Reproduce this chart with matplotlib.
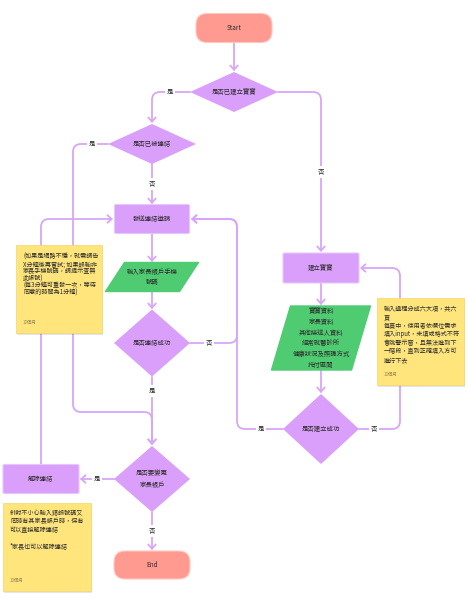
import numpy as np
import matplotlib
matplotlib.use('Agg')
import matplotlib.pyplot as plt
from matplotlib.path import Path
from matplotlib.patches import Polygon, FancyBboxPatch, FancyArrowPatch, Rectangle

plt.rcParams['font.family'] = ['Noto Sans CJK TC', 'DejaVu Sans']

# ---- text content ----
terminal_labels = ['Start', 'End']
decision_labels = ['是否已建立寶寶', '是否已被連結', '是否連結成功', '是否建立成功', '是否要變更\n家長帳戶']
process_labels = ['發送連結邀請', '建立寶寶', '解除連結']
io_labels = ['輸入家長帳戶手機\n號碼',
             '寶寶資料\n家長資料\n其他接送人資料\n經常就醫診所\n健康狀況及照護方式\n托付區間']
note1_lines = ['(如果是網路不穩，就需請告', 'X分鐘後再嘗試; 如果誤輸非', '家長手機號碼，請提示查無',
               '此帳號)', '(每3分鐘可重發一次，等待', '同意的時間為1分鐘)']
note2_lines = ['輸入過程分成六大項，共六', '頁', '每頁中，使用者依欄位需求', '填入input，未填或格式不符',
               '會跳警示窗，且無法進到下', '一階段，直到正確填入方可', '進行下去']
note3_lines = ['針對不小心輸入錯誤號碼又', '同時有其家長帳戶時，保有', '可以直接解除連結', '',
               '*家長也可以解除連結']
note_stamp = '10個月'
yes_label, no_label = '是', '否'

# ---- colours ----
SALMON = '#ff9a90'
PURPLE = '#da9ffa'
LINE = '#d8a6f8'
GREEN = '#4fcb72'
YELLOW = '#ffe57c'
TEXT = '#2b2b2b'

# ---- layout (pixel space, y down) ----
terminals = [(234, 28, 76, 29), (152, 565, 76, 28)]           # cx, cy, w, h
decisions = [(234, 92, 88, 40), (152, 144, 88, 40), (152, 343, 76, 67),
             (321, 429, 76, 70), (152, 479, 76, 66)]
processes = [(152, 219, 75, 29), (321, 268, 76, 30), (41, 479, 76, 29)]
ios = [(152, 277, 74, 29, 19), (321, 338, 80, 64, 19)]       # cx, cy, w, h, skew
notes = [(16, 245, 86, 88, note1_lines, 7.2, 257),
         (377, 298, 87, 87, note2_lines, 8.5, 309),
         (3, 503, 88, 88, note3_lines, 8.4, 513)]

# connectors: polyline points, label, label position
connectors = [
    ([(234, 43), (234, 71)], None, None),
    ([(190, 92), (152, 92), (152, 123)], yes_label, (170, 92)),
    ([(278, 92), (321, 92), (321, 252)], no_label, (321, 172)),
    ([(152, 164), (152, 204)], no_label, (152, 184)),
    ([(108, 144), (73, 144), (73, 412), (152, 412), (152, 445)], yes_label, (92, 144)),
    ([(152, 234), (152, 262)], None, None),
    ([(152, 292), (152, 309)], None, None),
    ([(190, 343), (237, 343), (237, 219), (191, 219)], no_label, (209, 343)),
    ([(152, 377), (152, 445)], yes_label, (152, 391)),
    ([(41, 464), (41, 219), (113, 219)], None, None),
    ([(114, 479), (80, 479)], yes_label, (97, 479)),
    ([(152, 512), (152, 550)], no_label, (152, 531)),
    ([(321, 283), (321, 305)], None, None),
    ([(321, 370), (321, 393)], None, None),
    ([(283, 429), (237, 429), (237, 219), (191, 219)], yes_label, (261, 429)),
    ([(359, 429), (400, 429), (400, 268), (360, 268)], no_label, (374, 429)),
]


def rounded_path(pts, r=8):
    verts = [pts[0]]
    codes = [Path.MOVETO]
    for i in range(1, len(pts) - 1):
        p0, p1, p2 = (np.array(p, float) for p in pts[i - 1:i + 2])
        d1 = (p1 - p0) / np.linalg.norm(p1 - p0)
        d2 = (p2 - p1) / np.linalg.norm(p2 - p1)
        verts += [tuple(p1 - d1 * r), tuple(p1), tuple(p1 + d2 * r)]
        codes += [Path.LINETO, Path.CURVE3, Path.CURVE3]
    verts.append(pts[-1])
    codes.append(Path.LINETO)
    return Path(verts, codes)


fig = plt.figure(figsize=(4.68, 6.0), dpi=100)
ax = fig.add_axes([0, 0, 1, 1])
ax.set_xlim(0, 468)
ax.set_ylim(600, 0)
ax.axis('off')

# connectors
for pts, label, lpos in connectors:
    arr = FancyArrowPatch(path=rounded_path(pts), arrowstyle='->,head_length=0.3,head_width=0.27',
                          mutation_scale=10, color=LINE, lw=1.3, shrinkA=0, shrinkB=0,
                          joinstyle='round', capstyle='round', zorder=1)
    ax.add_patch(arr)
    if label:
        ax.text(lpos[0], lpos[1], label, fontsize=4.6, color=TEXT, ha='center', va='center',
                zorder=2, bbox=dict(facecolor='white', edgecolor='none', pad=1.2))

# terminals
for (cx, cy, w, h), lab in zip(terminals, terminal_labels):
    ax.add_patch(FancyBboxPatch((cx - w / 2, cy - h / 2), w, h,
                                boxstyle='round,pad=0,rounding_size=11',
                                facecolor=SALMON, edgecolor='#ffc9c2', lw=0.8, zorder=3))
    ax.text(cx, cy, lab, fontsize=4.6, color=TEXT, ha='center', va='center', zorder=4)

# decisions
for (cx, cy, w, h), lab in zip(decisions, decision_labels):
    ax.add_patch(Polygon([(cx - w / 2, cy), (cx, cy - h / 2), (cx + w / 2, cy), (cx, cy + h / 2)],
                         closed=True, facecolor=PURPLE, edgecolor='none', zorder=3))
    ax.text(cx, cy, lab, fontsize=4.6, color=TEXT, ha='center', va='center',
            linespacing=1.6, zorder=4)

# processes
for (cx, cy, w, h), lab in zip(processes, process_labels):
    ax.add_patch(FancyBboxPatch((cx - w / 2, cy - h / 2), w, h,
                                boxstyle='round,pad=0,rounding_size=1.5',
                                facecolor=PURPLE, edgecolor='#e7c6fb', lw=0.8, zorder=3))
    ax.text(cx, cy, lab, fontsize=4.6, color=TEXT, ha='center', va='center', zorder=4)

# input / output parallelograms
for (cx, cy, w, h, sk), lab in zip(ios, io_labels):
    x0, x1 = cx - w / 2 - sk / 2, cx + w / 2 - sk / 2
    ax.add_patch(Polygon([(x0, cy + h / 2), (x0 + sk, cy - h / 2), (x1 + sk, cy - h / 2), (x1, cy + h / 2)],
                         closed=True, facecolor=GREEN, edgecolor=GREEN, lw=1.0,
                         joinstyle='round', zorder=3))
    ax.text(cx, cy, lab, fontsize=4.6, color=TEXT, ha='center', va='center',
            linespacing=1.45, zorder=4)

# sticky notes
for x, y, w, h, lines, step, y_first in notes:
    ax.add_patch(Rectangle((x + 1, y + 1.5), w, h, facecolor='#000000', alpha=0.10,
                           edgecolor='none', zorder=5))
    ax.add_patch(Rectangle((x, y), w, h, facecolor=YELLOW, edgecolor='#f3d86a', lw=0.5, zorder=6))
    for i, line in enumerate(lines):
        ax.text(x + 7, y_first + i * step, line, fontsize=4.4, color=TEXT, ha='left',
                va='center', zorder=7)
    ax.text(x + 7, y + h - 11, note_stamp, fontsize=3.2, color='#9a8a55', ha='left',
            va='center', zorder=7)

fig.savefig('out.png', dpi=100, facecolor='white')
